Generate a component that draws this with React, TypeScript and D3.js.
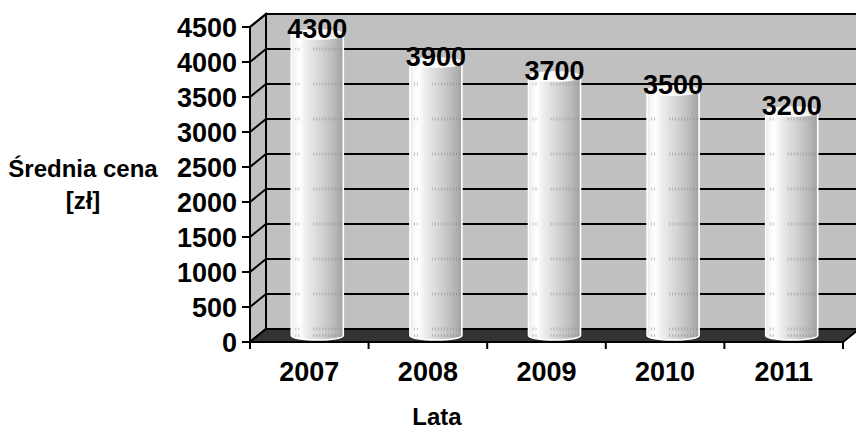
import React from "react";
import * as d3 from "d3";

// Average price per year
const years: string[] = ["2007", "2008", "2009", "2010", "2011"];
const prices: number[] = [4300, 3900, 3700, 3500, 3200];
const yTicks: number[] = [0, 500, 1000, 1500, 2000, 2500, 3000, 3500, 4000, 4500];
const yTitle: string[] = ["Średnia cena", "[zł]"];
const xTitle = "Lata";

const W = 856;
const H = 429;
const FONT = "'Liberation Sans', Arial, Helvetica, sans-serif";

// 3D wall offset (front plane -> back plane)
const DX = 16;
const DY = -13;

export default function App() {
  const x = d3.scaleBand<string>().domain(years).range([250, 843]).padding(0);
  const y = d3.scaleLinear().domain([0, 4500]).range([342, 27]);
  const bw = x.bandwidth();
  const rx = 26;
  const ry = 4.5;

  const x0 = x.range()[0];
  const x1 = x.range()[1];
  const yBase = y(0);
  const yTop = y(4500);

  const wall = "#c0c0c0";
  const floor = "#333333";

  return (
    <svg
      width={W}
      height={H}
      style={{ position: "absolute", left: 0, top: 0, background: "#fff" }}
      fontFamily={FONT}
    >
      <defs>
        <linearGradient id="cylBody" x1="0" x2="1" y1="0" y2="0">
          <stop offset="0" stopColor="#e4e4e4" />
          <stop offset="0.06" stopColor="#f6f6f6" />
          <stop offset="0.16" stopColor="#ffffff" />
          <stop offset="0.3" stopColor="#ececec" />
          <stop offset="0.55" stopColor="#d6d6d6" />
          <stop offset="0.8" stopColor="#bcbcbc" />
          <stop offset="1" stopColor="#a2a2a2" />
        </linearGradient>
        <linearGradient id="cylTop" x1="0" x2="1" y1="0" y2="0">
          <stop offset="0" stopColor="#f2f2f2" />
          <stop offset="0.4" stopColor="#ffffff" />
          <stop offset="1" stopColor="#e6e6e6" />
        </linearGradient>
        <clipPath id="page">
          <rect x={0} y={0} width={W} height={H} />
        </clipPath>
      </defs>

      <g clipPath="url(#page)">
        {/* back wall */}
        <rect
          x={x0 + DX}
          y={yTop + DY}
          width={x1 - x0}
          height={yBase - yTop}
          fill={wall}
          stroke="#000"
          strokeWidth={2}
        />
        {/* side wall */}
        <path
          d={`M${x0},${yTop} L${x0 + DX},${yTop + DY} L${x0 + DX},${yBase + DY} L${x0},${yBase} Z`}
          fill={wall}
          stroke="#000"
          strokeWidth={2}
        />
        {/* gridlines on back and side walls */}
        {yTicks.map((t) => (
          <g key={t}>
            <line
              x1={x0 + DX}
              x2={x1 + DX}
              y1={y(t) + DY}
              y2={y(t) + DY}
              stroke="#000"
              strokeWidth={2}
            />
            <line
              x1={x0}
              x2={x0 + DX}
              y1={y(t)}
              y2={y(t) + DY}
              stroke="#000"
              strokeWidth={2}
            />
          </g>
        ))}
        {/* floor */}
        <path
          d={`M${x0},${yBase} L${x1},${yBase} L${x1 + DX},${yBase + DY} L${x0 + DX},${yBase + DY} Z`}
          fill={floor}
          stroke="#000"
          strokeWidth={2}
        />

        {/* cylinders */}
        {years.map((yr, i) => {
          const cx = (x(yr) as number) + bw / 2 + DX / 2;
          const base = yBase + DY / 2;
          const top = y(prices[i]) + DY / 2;
          const body = `M${cx - rx},${top} L${cx - rx},${base} A${rx},${ry} 0 0 0 ${cx + rx},${base} L${cx + rx},${top} Z`;
          // faint hatch marks at the back-wall gridline levels
          const hatchLevels = yTicks
            .map((t) => y(t) + DY)
            .filter((gy) => gy > top + ry + 1)
            .concat([base]);
          return (
            <g key={yr}>
              <path d={body} fill="url(#cylBody)" stroke="#fff" strokeWidth={1.6} />
              {hatchLevels.map((gy, k) => (
                <g key={k} stroke="#8a8a8a" strokeOpacity={0.55} strokeWidth={3} strokeDasharray="1 2">
                  <line x1={cx - rx + 4} x2={cx - rx + 10} y1={gy} y2={gy} />
                  <line x1={cx - 4} x2={cx + rx - 2} y1={gy} y2={gy} />
                </g>
              ))}
              <ellipse cx={cx} cy={top} rx={rx} ry={ry} fill="url(#cylTop)" stroke="#fff" strokeWidth={1.6} />
            </g>
          );
        })}

        {/* front value axis */}
        <line x1={x0} x2={x0} y1={yTop} y2={yBase} stroke="#000" strokeWidth={2} />
        {yTicks.map((t) => (
          <g key={t}>
            <line x1={x0 - 8} x2={x0} y1={y(t)} y2={y(t)} stroke="#000" strokeWidth={2} />
            <text
              x={x0 - 13}
              y={y(t)}
              dy="0.36em"
              textAnchor="end"
              fontSize={27}
              fontWeight="bold"
            >
              {t}
            </text>
          </g>
        ))}

        {/* category axis */}
        <line x1={x0} x2={x1} y1={yBase} y2={yBase} stroke="#000" strokeWidth={2} />
        {[...years.map((yr) => x(yr) as number), x1].map((px, i) => (
          <line key={i} x1={px} x2={px} y1={yBase} y2={yBase + 7} stroke="#000" strokeWidth={2} />
        ))}
        {years.map((yr) => (
          <text
            key={yr}
            x={(x(yr) as number) + bw / 2}
            y={381}
            textAnchor="middle"
            fontSize={27}
            fontWeight="bold"
          >
            {yr}
          </text>
        ))}

        {/* value labels */}
        {years.map((yr, i) => (
          <text
            key={yr}
            x={(x(yr) as number) + bw / 2 + DX / 2}
            y={y(prices[i]) + DY / 2 + 3}
            textAnchor="middle"
            fontSize={27}
            fontWeight="bold"
          >
            {prices[i]}
          </text>
        ))}

        {/* axis titles */}
        <text x={83} y={177} textAnchor="middle" fontSize={24} fontWeight="bold">
          {yTitle[0]}
        </text>
        <text x={83} y={209} textAnchor="middle" fontSize={24} fontWeight="bold">
          {yTitle[1]}
        </text>
        <text x={437} y={425} textAnchor="middle" fontSize={24} fontWeight="bold">
          {xTitle}
        </text>
      </g>
    </svg>
  );
}
